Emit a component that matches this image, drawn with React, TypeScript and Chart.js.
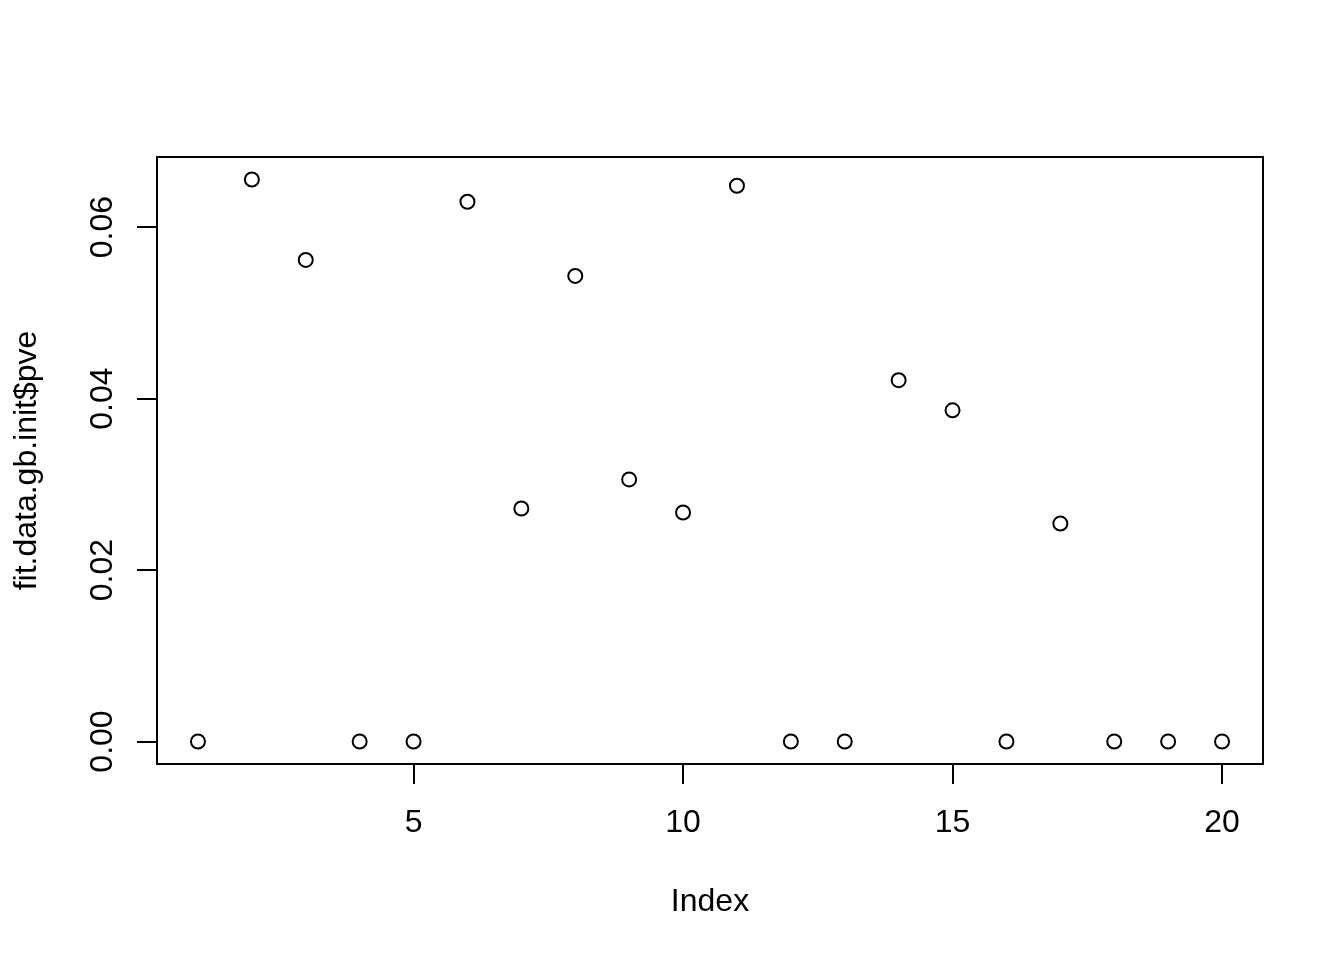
import React, { useEffect, useRef } from "react";
import { Chart, registerables } from "chart.js";

Chart.register(...registerables);

const indexValues = [1, 2, 3, 4, 5, 6, 7, 8, 9, 10, 11, 12, 13, 14, 15, 16, 17, 18, 19, 20];
const pveValues = [
  0, 0.06555, 0.05617, 0, 0, 0.06295, 0.02718, 0.0543, 0.03057, 0.02671,
  0.06482, 0, 0, 0.04214, 0.03863, 0, 0.02542, 0, 0, 0,
];
const xTicks = [5, 10, 15, 20];
const yTicks = [0, 0.02, 0.04, 0.06];
const yTickLabels = ["0.00", "0.02", "0.04", "0.06"];
const xTitle = "Index";
const yTitle = "fit.data.gb.init$pve";

const FONT = '"Liberation Sans", Arial, Helvetica, sans-serif';

function rRange(vals: number[]) {
  const lo = Math.min(...vals);
  const hi = Math.max(...vals);
  const pad = (hi - lo) * 0.04;
  return [lo - pad, hi + pad];
}

const boxPlugin = {
  id: "rbox",
  afterDraw(chart: any) {
    const { ctx, chartArea, scales } = chart;
    ctx.save();
    ctx.strokeStyle = "#000";
    ctx.lineWidth = 2;
    ctx.strokeRect(chartArea.left, chartArea.top, chartArea.right - chartArea.left, chartArea.bottom - chartArea.top);
    ctx.fillStyle = "#000";
    ctx.font = `32px ${FONT}`;
    // y tick labels, rotated like R (las = 0)
    const ys = scales.y;
    yTicks.forEach((v, i) => {
      const py = ys.getPixelForValue(v);
      ctx.save();
      ctx.translate(chartArea.left - 45, py);
      ctx.rotate(-Math.PI / 2);
      ctx.textAlign = "center";
      ctx.textBaseline = "alphabetic";
      ctx.fillText(yTickLabels[i], 0, 0);
      ctx.restore();
    });
    // axis titles
    ctx.textAlign = "center";
    ctx.textBaseline = "alphabetic";
    ctx.fillText(xTitle, (chartArea.left + chartArea.right) / 2, chartArea.bottom + 147);
    ctx.save();
    ctx.translate(chartArea.left - 121, (chartArea.top + chartArea.bottom) / 2);
    ctx.rotate(-Math.PI / 2);
    ctx.fillText(yTitle, 0, 0);
    ctx.restore();
    ctx.restore();
  },
};

export default function App() {
  const ref = useRef<HTMLCanvasElement | null>(null);
  useEffect(() => {
    const [xmin, xmax] = rRange(indexValues);
    const [ymin, ymax] = rRange(pveValues);
    const chart = new Chart(ref.current as HTMLCanvasElement, {
      type: "scatter",
      data: {
        datasets: [
          {
            data: indexValues.map((x, i) => ({ x, y: pveValues[i] })),
            pointStyle: "circle",
            pointRadius: 7,
            pointHoverRadius: 7,
            borderColor: "#000",
            backgroundColor: "rgba(0,0,0,0)",
            borderWidth: 2,
            clip: false,
          } as any,
        ],
      },
      options: {
        animation: false,
        responsive: false,
        devicePixelRatio: 1,
        events: [],
        layout: { padding: { top: 157, right: 81, left: 0, bottom: 0 } },
        plugins: { legend: { display: false }, tooltip: { enabled: false } },
        scales: {
          x: {
            type: "linear",
            min: xmin,
            max: xmax,
            afterBuildTicks: (s: any) => {
              s.ticks = xTicks.map((v) => ({ value: v }));
            },
            afterFit: (s: any) => {
              s.height = 196;
            },
            grid: { drawOnChartArea: false, drawTicks: true, tickLength: 20, color: "#000", lineWidth: 2 },
            border: { display: false },
            ticks: {
              color: "#000",
              font: { family: FONT, size: 32 },
              padding: 20,
              maxRotation: 0,
              autoSkip: false,
              callback: (v: any) => String(v),
            },
          },
          y: {
            type: "linear",
            min: ymin,
            max: ymax,
            afterBuildTicks: (s: any) => {
              s.ticks = yTicks.map((v) => ({ value: v }));
            },
            afterFit: (s: any) => {
              s.width = 157;
            },
            grid: { drawOnChartArea: false, drawTicks: true, tickLength: 20, color: "#000", lineWidth: 2 },
            border: { display: false },
            ticks: { display: false, autoSkip: false },
          },
        },
      },
      plugins: [boxPlugin],
    } as any);
    return () => chart.destroy();
  }, []);
  return (
    <div style={{ position: "absolute", left: 0, top: 0, width: 1344, height: 960, background: "#fff" }}>
      <canvas ref={ref} width={1344} height={960} style={{ width: 1344, height: 960, display: "block" }} />
    </div>
  );
}
